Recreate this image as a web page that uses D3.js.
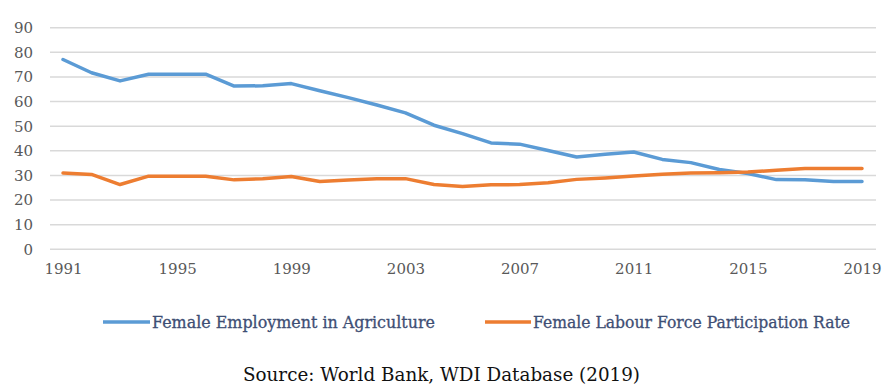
<!DOCTYPE html>
<html>
<head>
<meta charset="utf-8">
<script src="https://cdn.jsdelivr.net/npm/d3@7"></script>
<style>
  html, body { margin: 0; padding: 0; background: #fff; }
  svg { display: block; }
  svg text { font-family: "DejaVu Serif", serif; }
</style>
</head>
<body>
<svg id="chart" width="882" height="387"></svg>
<script>
// Years on the horizontal axis
const years = d3.range(1991, 2020);

// Female employment in agriculture (% of female employment)
const agriculture = [77.1, 71.7, 68.4, 71.1, 71.1, 71.1, 66.3, 66.4, 67.3, 64.4,
                     61.6, 58.6, 55.4, 50.4, 47.0, 43.2, 42.7, 40.1, 37.5, 38.6,
                     39.5, 36.5, 35.2, 32.4, 30.8, 28.3, 28.2, 27.5, 27.5];

// Female labour force participation rate (%)
const participation = [31.0, 30.4, 26.3, 29.7, 29.7, 29.7, 28.2, 28.7, 29.6, 27.5,
                       28.1, 28.7, 28.7, 26.3, 25.5, 26.2, 26.3, 27.0, 28.4, 29.0,
                       29.8, 30.5, 31.0, 31.1, 31.4, 32.1, 32.8, 32.8, 32.8];

const yTicks = [0, 10, 20, 30, 40, 50, 60, 70, 80, 90];
const xTicks = [1991, 1995, 1999, 2003, 2007, 2011, 2015, 2019];

const seriesNames = ["Female Employment in Agriculture", "Female Labour Force Participation Rate"];
const seriesColors = ["#5B9BD5", "#ED7D31"];

const svg = d3.select("#chart");

const plotLeft = 50, plotRight = 876;
const x = d3.scaleLinear().domain([1991, 2019]).range([63, 862]);
const y = d3.scaleLinear().domain([0, 90]).range([249.3, 27.7]);

// Horizontal gridlines
svg.append("g")
  .selectAll("line")
  .data(yTicks)
  .join("line")
  .attr("x1", plotLeft).attr("x2", plotRight)
  .attr("y1", d => y(d)).attr("y2", d => y(d))
  .attr("stroke", "#D9D9D9")
  .attr("stroke-width", 1.5);

// Y axis labels
const yAxis = d3.axisLeft(y).tickValues(yTicks).tickSize(0).tickPadding(0);
const gy = svg.append("g").attr("transform", "translate(33,0)").call(yAxis);
gy.select(".domain").remove();
gy.attr("font-family", null);
gy.selectAll("text")
  .attr("font-size", 15)
  .attr("fill", "#595959");

// X axis labels
const xAxis = d3.axisBottom(x).tickValues(xTicks).tickFormat(d3.format("d")).tickSize(0).tickPadding(0);
const gx = svg.append("g").attr("transform", "translate(0,263)").call(xAxis);
gx.select(".domain").remove();
gx.attr("font-family", null);
gx.selectAll("text")
  .attr("font-size", 15)
  .attr("fill", "#595959");

// Series lines
const line = d3.line()
  .x((d, i) => x(years[i]))
  .y(d => y(d));

[agriculture, participation].forEach((vals, k) => {
  svg.append("path")
    .datum(vals)
    .attr("d", line)
    .attr("fill", "none")
    .attr("stroke", seriesColors[k])
    .attr("stroke-width", 3.5)
    .attr("stroke-linejoin", "round")
    .attr("stroke-linecap", "round");
});

// Legend
const legendItems = [
  { lx1: 103, lx2: 150, tx: 152, tw: 283 },
  { lx1: 485, lx2: 531, tx: 533, tw: 317 }
];
const legendY = 322;
legendItems.forEach((it, k) => {
  svg.append("line")
    .attr("x1", it.lx1).attr("x2", it.lx2)
    .attr("y1", legendY).attr("y2", legendY)
    .attr("stroke", seriesColors[k])
    .attr("stroke-width", 3.5);
  svg.append("text")
    .attr("x", it.tx).attr("y", legendY + 6)
    .attr("font-size", 16)
    .attr("fill", "#3E4E74")
    .attr("stroke", "#3E4E74")
    .attr("stroke-width", 0.3)
    .attr("textLength", it.tw)
    .attr("lengthAdjust", "spacingAndGlyphs")
    .text(seriesNames[k]);
});

// Source note
svg.append("text")
  .attr("x", 243).attr("y", 381)
  .attr("font-size", 18)
  .attr("fill", "#111")
  .attr("textLength", 397)
  .attr("lengthAdjust", "spacingAndGlyphs")
  .text("Source: World Bank, WDI Database (2019)");
</script>
</body>
</html>
